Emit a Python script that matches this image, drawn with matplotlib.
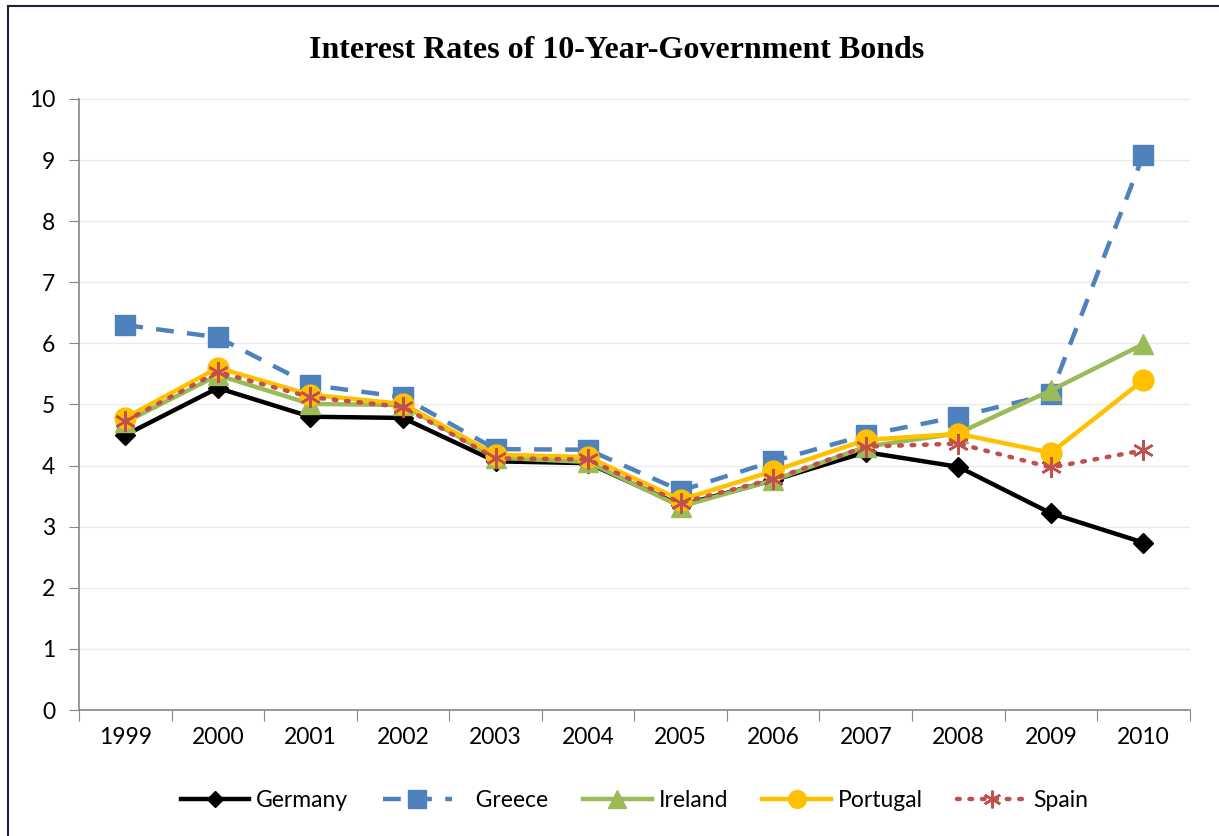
import matplotlib.pyplot as plt
from matplotlib.lines import Line2D

years = ["1999", "2000", "2001", "2002", "2003", "2004", "2005", "2006", "2007", "2008", "2009", "2010"]
germany = [4.50, 5.27, 4.80, 4.78, 4.07, 4.04, 3.35, 3.76, 4.22, 3.98, 3.22, 2.74]
greece = [6.30, 6.10, 5.32, 5.12, 4.27, 4.26, 3.59, 4.07, 4.50, 4.80, 5.17, 9.09]
ireland = [4.71, 5.48, 5.01, 4.99, 4.13, 4.06, 3.33, 3.76, 4.31, 4.53, 5.23, 5.99]
portugal = [4.78, 5.60, 5.16, 5.01, 4.18, 4.14, 3.44, 3.91, 4.42, 4.52, 4.21, 5.40]
spain = [4.73, 5.53, 5.12, 4.96, 4.12, 4.10, 3.39, 3.78, 4.31, 4.36, 3.97, 4.25]

plt.rcParams['font.family'] = ['Lato', 'DejaVu Sans']

fig = plt.figure(figsize=(12.19, 8.36), dpi=100)
ax = fig.add_axes([0.0648, 0.1507, 0.9112, 0.7309])

x = list(range(len(years)))
asterisk = (6, 2, 0)

ax.plot(x, germany, color="black", lw=3.2, marker="D", ms=10, label="Germany")
ax.plot(x, greece, color="#4f81bd", lw=3.2, ls=(0, (4, 3)), marker="s", ms=15, label="   Greece")
ax.plot(x, ireland, color="#9bbb59", lw=3.2, marker="^", ms=15, label="Ireland")
ax.plot(x, portugal, color="#ffc000", lw=3.2, marker="o", ms=15, label="Portugal")
ax.plot(x, spain, color="#c0504d", lw=3.2, ls=(0, (0.6, 2.2)), dash_capstyle="round",
        marker=asterisk, ms=15, mew=1.8, label="Spain")

ax.set_xlim(-0.5, 11.5)
ax.set_ylim(0, 10)
ax.set_yticks(range(0, 11))
ax.set_xticks([i - 0.5 for i in range(13)])
ax.set_xticklabels([])
ax.set_xticks(x, minor=True)
ax.set_xticklabels(years, minor=True)
ax.tick_params(axis="x", which="minor", length=0, pad=12, labelsize=16.5)
ax.tick_params(axis="x", which="major", length=8, color="#868686", direction="out")
ax.tick_params(axis="y", length=7, color="#868686", labelsize=16.5, pad=10)

ax.grid(axis="y", color="#ebebeb", lw=1)
ax.set_axisbelow(True)
for s in ["top", "right"]:
    ax.spines[s].set_visible(False)
for s in ["left", "bottom"]:
    ax.spines[s].set_color("#868686")
    ax.spines[s].set_linewidth(1.2)

fig.text(0.506, 0.939, "Interest Rates of 10-Year-Government Bonds", ha="center", va="center",
         fontsize=23, fontweight="bold", family=["Liberation Serif"])

ax.legend(loc="center", bbox_to_anchor=(0.5, -0.148), ncol=5, frameon=False, fontsize=16.5,
          handlelength=3.0, columnspacing=1.5, handletextpad=0.3, markerscale=0.85)

# frame lines on left and top
fig.add_artist(Line2D([0.0066, 0.0066], [0, 0.993], color="#1f1f3a", lw=1.5))
fig.add_artist(Line2D([0.0066, 1], [0.993, 0.993], color="#1f1f3a", lw=1.5))

fig.savefig("out.png", dpi=100)
